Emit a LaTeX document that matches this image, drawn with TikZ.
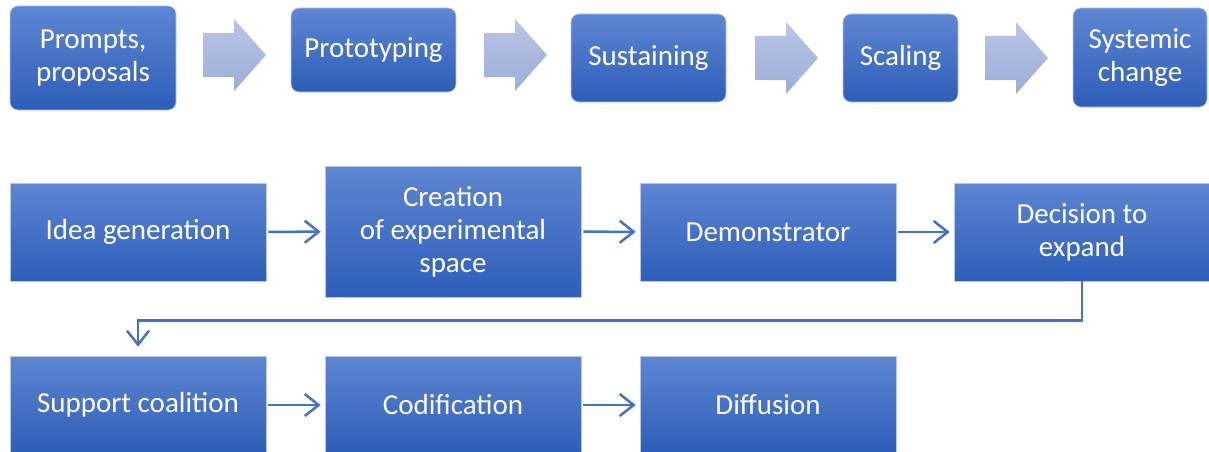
\documentclass[tikz,border=0pt]{standalone}
\usepackage{fontspec}
\setmainfont{Carlito}
\usetikzlibrary{arrows.meta}
\definecolor{boxtop}{RGB}{94,134,210}
\definecolor{boxbot}{RGB}{46,94,185}
\definecolor{arrtop}{RGB}{186,197,231}
\definecolor{arrbot}{RGB}{157,173,214}
\definecolor{linkblue}{RGB}{68,114,196}

\begin{document}
\begin{tikzpicture}[x=1pt,y=-1pt]
    \tikzset{stage/.style = {shape=rectangle, rounded corners=8pt, draw=boxtop!45!white, line width=0.6pt, top color=boxtop, bottom color=boxbot, text=white, align=center, inner sep=0pt, font=\fontsize{29}{33}\selectfont}}
    \tikzset{phase/.style = {stage, rounded corners=0pt, minimum width=256, minimum height=98}}
    \tikzset{link/.style = {draw=linkblue, line width=2.5pt, -{Straight Barb[length=14pt,width=22pt]}, shorten <=2pt, shorten >=4pt}}

    \useasboundingbox (0,0) rectangle (1209,452);

    % top row
    \node[stage, minimum width=166, minimum height=104] (p1) at (93,58) {Prompts,\\proposals};
    \node[stage, minimum width=165, minimum height=84] (p2) at (373.5,50) {Prototyping};
    \node[stage, minimum width=155, minimum height=88] (p3) at (648.5,58) {Sustaining};
    \node[stage, minimum width=115, minimum height=88] (p4) at (900.5,58) {Scaling};
    \node[stage, minimum width=134, minimum height=99] (p5) at (1140,57.5) {Systemic\\change};

    % block arrows
    \foreach \ax/\ay in {203/55, 484/55, 755/58, 985/58}
        \shade[top color=arrtop, bottom color=arrbot] (\ax,\ay-22) -- (\ax+31,\ay-22) -- (\ax+31,\ay-36) -- (\ax+63,\ay) -- (\ax+31,\ay+36) -- (\ax+31,\ay+22) -- (\ax,\ay+22) -- cycle;

    % middle row
    \node[phase] (i1) at (138,232) {Idea generation};
    \node[phase, minimum height=131] (i2) at (453,231.5) {Creation\\of experimental\\space};
    \node[phase] (i3) at (768,232) {Demonstrator};
    \node[phase] (i4) at (1082,232) {Decision to\\expand};

    % bottom row
    \node[phase] (s1) at (138,405) {Support coalition};
    \node[phase] (s2) at (453,405) {Codification};
    \node[phase] (s3) at (768,405) {Diffusion};

    % links
    \draw[link] (i1) -- (i2);
    \draw[link] (i2) -- (i3);
    \draw[link] (i3) -- (i4);
    \draw[link, shorten <=0pt, shorten >=9pt] (i4.south) -- ++(0,39) -| (s1.north);
    \draw[link] (s1) -- (s2);
    \draw[link] (s2) -- (s3);
\end{tikzpicture}
\end{document}
